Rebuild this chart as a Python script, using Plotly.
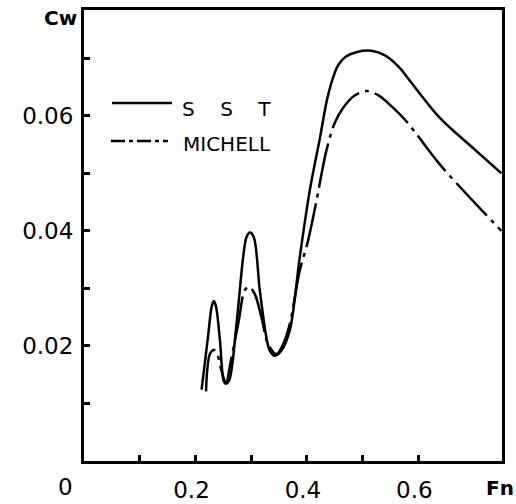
import plotly.graph_objects as go

# Froude number / wave resistance coefficient
sst_fn = [0.211, 0.223, 0.229, 0.233, 0.237, 0.244, 0.2505, 0.2545, 0.2605, 0.2736, 0.2855,
          0.2915, 0.2975, 0.3047, 0.3154, 0.3274, 0.3333, 0.3423, 0.3543, 0.3692, 0.3871,
          0.405, 0.423, 0.436, 0.446, 0.456, 0.470, 0.490, 0.516, 0.540, 0.566, 0.584,
          0.638, 0.697, 0.749]
sst_cw = [0.0124, 0.0220, 0.0268, 0.0278, 0.0268, 0.0209, 0.0140, 0.01345, 0.0140, 0.0238, 0.0354,
          0.0389, 0.0397, 0.0389, 0.0297, 0.0214, 0.0192, 0.0183, 0.0192, 0.0227, 0.0354,
          0.0470, 0.0560, 0.0628, 0.0664, 0.0688, 0.0703, 0.0711, 0.0713, 0.0705, 0.0684, 0.0662,
          0.0597, 0.0545, 0.0500]

mic_fn = [0.219, 0.221, 0.2258, 0.233, 0.239, 0.2467, 0.2545, 0.2646, 0.2766, 0.2885, 0.2963,
          0.3065, 0.3184, 0.3303, 0.3453, 0.3572, 0.3692, 0.3871, 0.402, 0.4158, 0.435,
          0.450, 0.465, 0.485, 0.507, 0.528, 0.548, 0.578, 0.638, 0.698, 0.749]
mic_cw = [0.0121, 0.0157, 0.0186, 0.0193, 0.0186, 0.0157, 0.0136, 0.0180, 0.0238, 0.0297, 0.0303,
          0.0290, 0.0250, 0.0203, 0.0186, 0.0203, 0.0238, 0.0331, 0.0383, 0.0446, 0.0540,
          0.0588, 0.0614, 0.0635, 0.0643, 0.0636, 0.0620, 0.0591, 0.0516, 0.0452, 0.0400]

x_tickvals = [0.1, 0.2, 0.3, 0.4, 0.5, 0.6]
x_ticktext = ["", "0.2", "", "0.4", "", "0.6"]
y_tickvals = [0.01, 0.02, 0.03, 0.04, 0.05, 0.06, 0.07]
y_ticktext = ["", "0.02", "", "0.04", "", "0.06", ""]

FONT = "DejaVu Sans"

fig = go.Figure()
fig.add_trace(go.Scatter(x=sst_fn, y=sst_cw, mode="lines", name="S S T",
                         line=dict(color="black", width=2.5, shape="spline", smoothing=0.9)))
fig.add_trace(go.Scatter(x=mic_fn, y=mic_cw, mode="lines", name="MICHELL",
                         line=dict(color="black", width=2.5, shape="spline", smoothing=0.9,
                                   dash="45px,6px,4px,6px")))

fig.update_layout(
    width=516, height=504,
    margin=dict(l=84, r=14, t=10, b=43),
    paper_bgcolor="white", plot_bgcolor="white",
    showlegend=False,
    font=dict(family=FONT, size=22, color="black"),
)
fig.update_xaxes(range=[0, 0.75], showgrid=False, zeroline=False, automargin=False,
                 showline=True, linecolor="black", linewidth=3, mirror=True,
                 ticks="inside", ticklen=6, tickwidth=2.5, tickcolor="black",
                 tickvals=x_tickvals, ticktext=x_ticktext,
                 tickfont=dict(size=23), ticklabelstandoff=6, ticklabelshift=-4)
fig.update_yaxes(range=[0, 0.0784], showgrid=False, zeroline=False, automargin=False,
                 showline=True, linecolor="black", linewidth=3, mirror=True,
                 ticks="inside", ticklen=6, tickwidth=2.5, tickcolor="black",
                 tickvals=y_tickvals, ticktext=y_ticktext,
                 tickfont=dict(size=23), ticklabelstandoff=3)

# legend drawn as key lines + labels
fig.add_shape(type="line", xref="paper", yref="paper", x0=0.067, x1=0.2105, y0=0.794, y1=0.794,
              line=dict(color="black", width=2.5))
fig.add_shape(type="line", xref="paper", yref="paper", x0=0.0646, x1=0.201, y0=0.7095, y1=0.7095,
              line=dict(color="black", width=2.5, dash="14px,4px,4px,4px"))
fig.add_annotation(text="S\u00a0\u00a0\u00a0\u00a0S\u00a0\u00a0\u00a0\u00a0T", xref="paper", yref="paper",
                   x=0.2297, y=0.7805, xanchor="left", yanchor="middle", showarrow=False,
                   font=dict(size=20))
fig.add_annotation(text="MICHELL", xref="paper", yref="paper",
                   x=0.232, y=0.703, xanchor="left", yanchor="middle", showarrow=False,
                   font=dict(size=20))

# axis titles and origin label
fig.add_annotation(text="<b>Cw</b>", xref="paper", yref="paper", x=-0.057, y=0.982,
                   xanchor="center", yanchor="middle", showarrow=False, font=dict(size=20))
fig.add_annotation(text="<b>Fn</b>", xref="paper", yref="paper", x=0.995, y=-0.06,
                   xanchor="center", yanchor="middle", showarrow=False, font=dict(size=20))
fig.add_annotation(text="0", xref="paper", yref="paper", x=-0.045, y=-0.058,
                   xanchor="center", yanchor="middle", showarrow=False, font=dict(size=23))

fig.write_html("out.html", config={"displayModeBar": False},
               post_script="document.body.style.margin='0';document.body.style.overflow='hidden';")
